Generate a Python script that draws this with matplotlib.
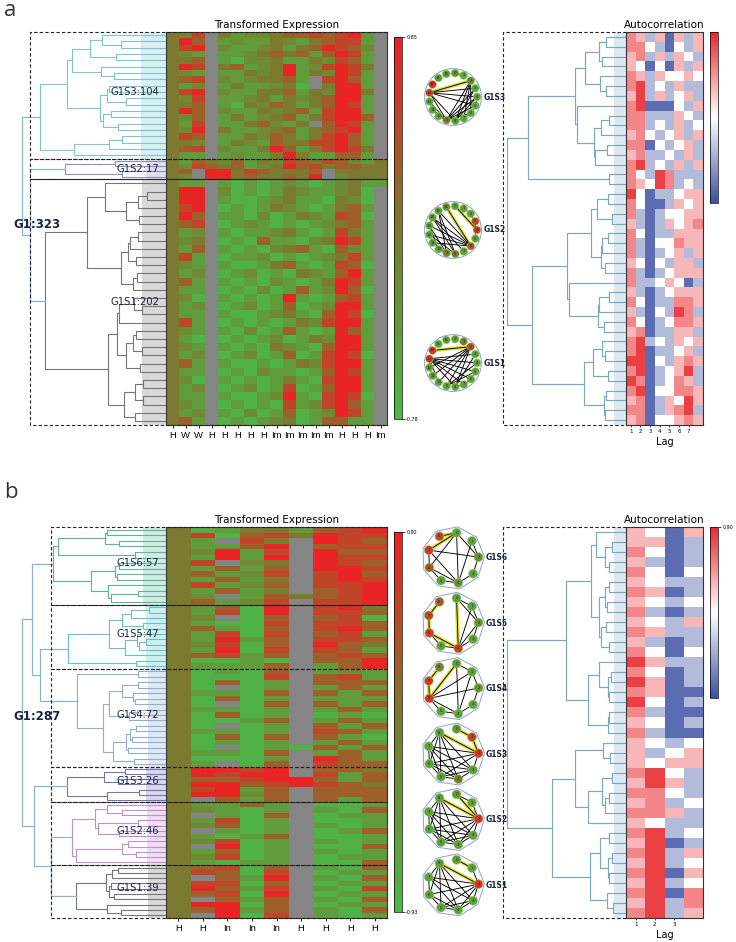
import numpy as np
import matplotlib
matplotlib.use('Agg')
import matplotlib.pyplot as plt
from matplotlib.colors import LinearSegmentedColormap, TwoSlopeNorm, Normalize
from matplotlib.patches import Circle, Polygon
import matplotlib.cm as cm

W, H = 736, 942

# ---------------- data ----------------
# expression cells coded as fraction of the colour range (x = missing)
EXPR_CODE = {'G': -0.9, 'g': -0.55, 'y': -0.25, 'o': 0.0, 'b': 0.3, 'r': 0.6, 'R': 0.95, 'x': np.nan}
AC_CODE = {'B': -0.75, 'b': -0.35, 'w': 0.0, 'p': 0.3, 'r': 0.5, 'R': 0.8}

a_names = ['G1S3', 'G1S2', 'G1S1']
a_sizes = [104, 17, 202]
a_total = 323
a_cols = ['H', 'W', 'W', 'H', 'H', 'H', 'H', 'H', 'Im', 'Im', 'Im', 'Im', 'Im', 'H', 'H', 'H', 'Im']
a_range = (-0.78, 0.85)
a_rows = {
    'G1S3': ["oyrxogyyobbrbrRgx", "oRbxgyggoygobrrgx", "orRxyggyogobRrbyx", "oygxggyobobgbRrgx",
             "oobxgGyyoggoyrbgx", "oRrxobgyoRgyrRrox", "oygxggoyoRgoyRrgx", "obrxygyoobgxrRbgx",
             "ogyxgoggyoGxoRRgx", "orRxyggoobgoyRRox", "oyrxggyogoyobRRgx", "oobxgGoybogobRrgx",
             "oRbxyggoyobgrRRgx", "oybxgogyobgorRRbx", "ogrxggobygoxbRrgx", "oyRxoggyobgobrRgx",
             "orbxggoybogorRbgx", "ooyxgoygboorrRbgx", "obrxyggoRbgorRrox", "oggxgyggoRoggbbgx"],
    'G1S2': ["ogboybgoyrborbygo", "oyrbobgyoRbrobboo", "obxRRorbooobxoooo", "oyxRRobooboRxyooo"],
    'G1S1': ["oggxgGgGgygGgyogg", "oRRxyGgGgoyggyoGx", "oRRxgGGgyoggGoyGx", "orRxGgGgoygGgobgx",
             "oRbxggGyGgoygrbGx", "obrxGgygGgGgyobgx", "ogyxgGggyogGgrogx", "oyoxGgGbggGyoRrgx",
             "ogbxgGgGyobgGbygx", "orgxGggyGgGgyorgx", "oygxgGGgobgGgrbGx", "ogyxGgyGgGoygbRgx",
             "obgxgGgGygGgoRrgx", "oggxGgGyGgbgyRbGx", "oyGxgGgGgRgGgbrgx", "ogyxGgyGgbGgyRRgx",
             "oggxgGGgyogGbRrGx", "orgxGgGgGgoyrRRgx", "oygxgGyGgbgGgRbgx", "ogGxGgGgyGgoyRRgx",
             "oygxgGgGoygGbRRgx", "ogyxGgyGgbGgrRrGx", "obgxgGGgGgoyrRRgx", "oggxGgGyggGgbRrgx",
             "oyGxgGgGgogGrRRgx", "ogyxGgyGgrGgbRRgx", "oggxgGGgyRgGrRrGx", "oygxGgGgGrgyrRbgx",
             "ogyxgGyGgbGgyRrgx", "obgxGgGgyoGgbbggx"],
}
a_labels = ['G1S3:104', 'G1S2:17', 'G1S1:202']

b_names = ['G1S6', 'G1S5', 'G1S4', 'G1S3', 'G1S2', 'G1S1']
b_sizes = [57, 47, 72, 26, 46, 39]
b_total = 287
b_cols = ['H', 'H', 'In', 'In', 'In', 'H', 'H', 'H', 'H']
b_range = (-0.93, 0.92)
b_rows = {
    'G1S6': ["oGgoogbrR", "orGbroRrr", "ogxroxRrb", "oggbRxbrr", "oyRgrxRbb", "ogRgRxRrr", "orxyoxRrb",
             "ogbgbxRRr", "obgyrxrRb", "ogbgoxrRr", "orgybxrrR", "ogbgoxbrR", "oyxgbobrR", "obgyrxrrR"],
    'G1S5': ["ogbGRxrRo", "ogrGRxrrb", "oyxGbxbrG", "ogGGrxrrb", "obgGbxrRb", "ogrGrxbrg",
             "ogRgbxrrb", "oyrGbxRbo", "ogRGrxrbg", "obrgbxbrb", "oGGgGxbbR", "ogggbxgbR"],
    'G1S4': ["oGgGbxgyg", "oGGGrxbrg", "oGbGgxbbb", "oGxGgxgbg", "oggGbxbgb", "oGbGgxggg",
             "oGxGbxbgb", "oggGgxgbg", "oGbGgxGgG", "oGGgbxgbg", "oGxGgxbgb", "oggGgxrbg",
             "oGbGbxbgG", "oGgGgxgbg", "oGxGgGbgb", "oggGbxgbg", "oGGGgxRbg", "ogxGbxrbb"],
    'G1S3': ["oRRrRxbbo", "oRrRRxrgb", "obbrRRbgb", "oRRbrRrbo", "orRgbxbbb", "oRRybxbbb", "oxbgbxbgb"],
    'G1S2': ["oggbgxGGg", "oygGgxgGb", "oxgGbxGgg", "ogrGgxGGg", "oybGgxgGg", "oxgGgxGgb",
             "ogGgbxGGg", "oyrGgxgGg", "oxRGgxGGb", "ogbGgxgGg", "oyrGgxGgg", "ogGggxGGb"],
    'G1S1': ["obrGbxgGb", "orbGrxGgg", "oxbgRxgGb", "orrGbxGgg", "oRbgrxgGr",
             "obrGRxGgg", "oxbgbxgGb", "oRRGbxGgg", "obRgbxgGb", "oxRGrxgGg"],
}
b_labels = ['G1S6:57', 'G1S5:47', 'G1S4:72', 'G1S3:26', 'G1S2:46', 'G1S1:39']

# dendrogram heights (root of whole tree = 1)
a_sub_h = [0.877, 0.703, 0.842]
a_tree = (1.0, 0, (0.947, 1, 2))
b_sub_h = [0.787, 0.682, 0.62, 0.689, 0.654, 0.627]
b_tree = (1.0, (0.933, 0, (0.877, 1, 2)), (0.919, 3, (0.80, 4, 5)))

# autocorrelation rows (lags 1..8 for a, 1..4 for b)
ac_a = ["rpbpBpbp", "rrwbBwbp", "prbpbpwb", "pwBwBpbp", "rpbpwwpw", "rRbwbpbb", "pRbpbwpb", "rRBBBwbp",
        "rrbbbpwb", "rrbwbpbw", "prwbwpbp", "rrBwbwpb", "prbbwbpb", "rRbwbpbp", "rwbRrbbb", "rpwRrbwb",
        "RwBbbwpp", "rwBBbpwp", "rbBbwwpp", "pbBbpwpr", "rwBbbppp", "rbBwwrpp", "rbBbwpbp", "pwBwbppb",
        "rbBbwppp", "rbbwpwBb", "pbBbwppp", "rwBbbrrp", "pbBwbRrb", "rwBbwrrp", "prBbbppb", "rRbwbpwp",
        "rRBbbwpb", "RRBwbprp", "rRBbwpRb", "RrBbwrpb", "rRBwwrrp", "prBbpwRp", "rrBbprRb", "prBwwprp"]
ac_b = ["pwBp", "ppBb", "rwBb", "pbBb", "rwBw", "pwbb", "rpBb", "pwbw", "rbBb", "pwbp", "rpbb", "pbBb", "rwBw",
        "Rpbb", "rwBb", "RpBb", "rpBB", "RwBb", "rbBB", "pwBb", "rbBB", "pwbw", "pbwp", "pwpp", "rRwb", "pRpb",
        "rrwb", "prbw", "rrpb", "pwbb", "rRbw", "pRBb", "rRbp", "pRbw", "rRBp", "pRbw", "rRBr", "pRbr", "rRbp"]

# co-expression networks: node values (fraction of colour range), edges, highlighted edges
net_a = {
    'G1S3': dict(vals=[-0.3, -0.7, -0.15, -0.7, -0.6, -0.7, -0.65, -0.7, -0.6, 0.05, -0.7, -0.65, -0.7, 0.65, 0.8, -0.6, -0.55],
                 edges=[(13, 3), (13, 4), (13, 5), (13, 8), (13, 9), (9, 2), (9, 3), (9, 4), (9, 5), (9, 6), (8, 2), (8, 3),
                        (7, 2), (12, 9), (11, 9), (10, 9), (6, 2), (4, 8), (4, 5), (5, 6), (6, 7), (7, 8), (10, 11), (11, 12)],
                 hl=[(13, 2), (0, 1)]),
    'G1S2': dict(vals=[-0.6, -0.6, -0.6, 0.55, 0.8, -0.6, 0.45, -0.6, -0.05, -0.1, -0.6, -0.6, -0.65, -0.6, -0.6, -0.6, -0.3],
                 edges=[(6, 15), (6, 14), (6, 13), (6, 12), (6, 11), (8, 15), (8, 14), (8, 12), (9, 15), (9, 13), (9, 11),
                        (7, 14), (10, 13), (2, 4), (3, 5), (1, 2), (11, 12), (13, 14), (9, 10)],
                 hl=[(16, 6), (0, 4)]),
    'G1S1': dict(vals=[-0.6, -0.1, 0.5, -0.6, -0.6, -0.6, -0.6, -0.6, -0.6, -0.6, -0.6, -0.6, -0.6, 0.75, 0.8, -0.6, -0.6],
                 edges=[(13, 3), (13, 4), (13, 5), (13, 6), (13, 7), (13, 8), (2, 8), (2, 9), (2, 10), (2, 11), (2, 12),
                        (4, 9), (3, 8), (5, 9), (13, 10), (5, 6), (6, 7), (7, 8), (11, 12), (12, 13)],
                 hl=[(14, 2)]),
}
net_b = {
    'G1S6': dict(vals=[-0.65, -0.6, -0.25, -0.6, -0.3, -0.6, 0.3, 0.7, 0.5],
                 edges=[(7, 4), (7, 2), (6, 0), (6, 4), (0, 4), (0, 2), (1, 4), (1, 2), (2, 3), (3, 4), (4, 5), (5, 6), (6, 7)],
                 hl=[(7, 0), (8, 0)]),
    'G1S5': dict(vals=[-0.6, -0.6, -0.3, -0.6, 0.75, -0.6, 0.7, 0.55, 0.35],
                 edges=[(0, 1), (1, 2), (2, 3), (3, 4), (4, 5), (5, 6), (0, 2), (1, 4), (2, 4)],
                 hl=[(0, 4), (6, 4), (6, 7), (7, 8)]),
    'G1S4': dict(vals=[-0.55, -0.6, -0.3, -0.6, -0.6, -0.6, 0.75, 0.65, -0.1],
                 edges=[(6, 4), (6, 2), (0, 4), (0, 1), (1, 2), (2, 3), (3, 4), (4, 5), (5, 6), (1, 4), (6, 1)],
                 hl=[(6, 0), (7, 8), (6, 7)]),
    'G1S3': dict(vals=[-0.45, 0.6, 0.8, -0.6, -0.05, -0.6, -0.6, -0.6, -0.55],
                 edges=[(8, 4), (8, 5), (8, 6), (7, 2), (7, 3), (7, 4), (6, 2), (6, 3), (5, 2), (5, 3), (7, 5), (6, 4),
                        (8, 7), (7, 6), (6, 5), (5, 4), (4, 3), (3, 2), (8, 3)],
                 hl=[(8, 2), (0, 1), (1, 2)]),
    'G1S2': dict(vals=[-0.45, -0.6, 0.8, -0.6, -0.6, -0.6, -0.6, -0.6, -0.55],
                 edges=[(8, 4), (8, 5), (8, 6), (8, 3), (7, 2), (7, 3), (7, 4), (7, 5), (6, 2), (6, 3), (6, 4), (5, 2),
                        (5, 3), (4, 2), (8, 7), (7, 6), (6, 5), (5, 4), (4, 3), (3, 2), (1, 2), (0, 1)],
                 hl=[(8, 2), (0, 2)]),
    'G1S1': dict(vals=[-0.45, -0.6, 0.8, -0.6, -0.6, -0.6, -0.6, -0.6, -0.5],
                 edges=[(8, 4), (8, 5), (8, 6), (8, 7), (7, 2), (7, 3), (7, 4), (6, 2), (6, 4), (5, 2), (5, 3), (4, 2),
                        (7, 6), (6, 5), (5, 4), (4, 3), (3, 2), (1, 2), (8, 3)],
                 hl=[(8, 2), (0, 1)]),
}

# colours
expr_cmap = LinearSegmentedColormap.from_list('expr', ['#4cb848', '#7b7a2e', '#ee2024'])
expr_cmap.set_bad('#858585')
ac_cmap = LinearSegmentedColormap.from_list('ac', ['#3b4fa3', '#ffffff', '#e8282c'])
a_dcol = ['#7cc6d2', '#8f8fc4', '#767676']
b_dcol = ['#5bb59a', '#62c2c6', '#8eaed2', '#7474b4', '#bf8fce', '#767676']
top_col = '#8cb4d2'
ac_dcol = '#7ba7c7'
navy = '#1b2540'


def px_ax(fig, x0, y0, x1, y1):
    return fig.add_axes([x0 / W, 1 - y1 / H, (x1 - x0) / W, (y1 - y0) / H])


def decode(rows, code, vmin=None, vmax=None):
    m = np.array([[code[c] for c in r] for r in rows], dtype=float)
    if vmin is not None:
        m = np.where(m > 0, m * vmax, m * abs(vmin))
    return m


def adj_tree(X, pos):
    # size-penalised agglomeration restricted to neighbouring rows, keeps the row order
    X = np.nan_to_num(X)
    nodes = [dict(n=1, m=X[i], p=pos[i], h=0.0) for i in range(len(X))]
    segs = []
    while len(nodes) > 1:
        ds = [(np.linalg.norm(a['m'] - b['m']) + 0.3) * (a['n'] + b['n']) ** 0.8
              for a, b in zip(nodes[:-1], nodes[1:])]
        k = int(np.argmin(ds))
        a, b = nodes[k], nodes[k + 1]
        h = max(ds[k], 1.06 * max(a['h'], b['h']))
        segs.append([a['p'], a['h'], b['p'], b['h'], h])
        nodes[k:k + 2] = [dict(n=a['n'] + b['n'], m=(a['m'] * a['n'] + b['m'] * b['n']) / (a['n'] + b['n']),
                               p=(a['p'] + b['p']) / 2, h=h)]
    return np.array(segs), nodes[0]


def draw_segs(ax, segs, root_h, target, color, lw=0.8):
    f = lambda v: target * (v / root_h) ** 0.75
    for p1, h1, p2, h2, h in segs:
        ax.plot([f(h1), f(h), f(h), f(h2)], [p1, p1, p2, p2], color=color, lw=lw, solid_capstyle='butt')


def draw_top(ax, tree, roots):
    if isinstance(tree, int):
        return roots[tree]
    h, l, r = tree
    pl, hl = draw_top(ax, l, roots)
    pr, hr = draw_top(ax, r, roots)
    ax.plot([hl, h, h, hr], [pl, pl, pr, pr], color=top_col, lw=0.9)
    return ((pl + pr) / 2, h)


def expr_panel(fig, ov, top, bot, dash_left, names, sizes, total, rows, rng, cols, sub_h, tree, dcols,
               labels, glabel):
    vmin, vmax = rng
    norm = TwoSlopeNorm(vmin=vmin, vcenter=0, vmax=vmax)
    hm = px_ax(fig, 166, top, 387, bot)
    dn = px_ax(fig, 8, top, 166, bot)
    starts = np.concatenate([[0], np.cumsum(sizes)])
    roots = []
    for k, nm in enumerate(names):
        m = decode(rows[nm], EXPR_CODE, vmin, vmax)
        assert m.shape[1] == len(cols)
        ye = np.linspace(starts[k], starts[k + 1], len(m) + 1)
        hm.pcolormesh(np.arange(len(cols) + 1), ye, np.ma.masked_invalid(m), cmap=expr_cmap, norm=norm)
        segs, root = adj_tree(m, (ye[:-1] + ye[1:]) / 2)
        # light band of leaves next to the heat map
        dn.fill_betweenx([starts[k], starts[k + 1]], 0, 0.2 * sub_h[k], color=dcols[k], alpha=0.28, lw=0)
        draw_segs(dn, segs, root['h'], sub_h[k], dcols[k])
        roots.append((root['p'], sub_h[k]))
    draw_top(dn, tree, roots)
    for a in (hm, dn):
        a.set_ylim(total, 0)
    dn.set_xlim(1.1, 0)
    dn.axis('off')
    hm.set_xlim(0, len(cols))
    hm.set_xticks(np.arange(len(cols)) + 0.5)
    hm.set_xticklabels(cols, fontsize=6.8, family='Liberation Sans')
    hm.tick_params(axis='x', length=2.5, width=0.6, pad=1.5)
    hm.set_yticks([])
    for s in hm.spines.values():
        s.set_linewidth(0.8)
        s.set_color('#333333')
    hm.set_title('Transformed Expression', fontsize=7.5, pad=3)
    # dashed cluster boxes
    ys = top + starts / total * (bot - top)
    for k in range(len(names)):
        y0, y1 = ys[k], ys[k + 1]
        ov.plot([387, dash_left, dash_left, 387], [y0, y0, y1, y1], color='#222222', lw=0.8,
                ls=(0, (3, 2)), zorder=6)
        mid = (y0 + y1) / 2
        ov.text(135 if len(labels[k]) > 7 else 138, mid - 3 if k == 0 or len(names) > 3 else mid,
                labels[k], fontsize=7.2, color=navy, ha='center', va='center', zorder=7)
    ov.text(37, glabel[1], glabel[0], fontsize=8.5, fontweight='bold', color=navy, ha='center', va='center', zorder=7)
    # colour bar
    cax = px_ax(fig, 394, top + 5, 402, bot - 6)
    cb = fig.colorbar(cm.ScalarMappable(norm=norm, cmap=expr_cmap), cax=cax, ticks=[vmin, vmax])
    cb.ax.set_yticklabels(['%.2f' % vmin, '%.2f' % vmax], fontsize=3.5)
    cb.ax.tick_params(length=2, width=0.5, pad=1)
    cb.outline.set_linewidth(0.5)
    return norm


def ac_panel(fig, ov, top, bot, rows, total, nlab, cb_label):
    m = decode(rows, AC_CODE)
    hm = px_ax(fig, 626, top, 703, bot)
    dn = px_ax(fig, 505, top, 626, bot)
    ye = np.linspace(0, total, len(m) + 1)
    norm = Normalize(-0.9, 0.9)
    hm.pcolormesh(np.arange(m.shape[1] + 1), ye, m, cmap=ac_cmap, norm=norm)
    segs, root = adj_tree(m, (ye[:-1] + ye[1:]) / 2)
    dn.fill_betweenx([0, total], 0, 0.1, color=ac_dcol, alpha=0.25, lw=0)
    draw_segs(dn, segs, root['h'], 1.0, ac_dcol, lw=0.85)
    for a in (hm, dn):
        a.set_ylim(total, 0)
    dn.set_xlim(1.02, 0)
    dn.axis('off')
    hm.set_xticks(np.arange(nlab) + 0.5)
    hm.set_xticklabels([str(i + 1) for i in range(nlab)], fontsize=4)
    hm.tick_params(axis='x', length=1.5, width=0.5, pad=1.5)
    hm.set_yticks([])
    hm.set_xlabel('Lag', fontsize=7, labelpad=2)
    hm.set_title('Autocorrelation', fontsize=7.5, pad=3)
    for s in hm.spines.values():
        s.set_linewidth(0.8)
        s.set_color('#333333')
    ov.plot([626, 503, 503, 626], [top, top, bot, bot], color='#222222', lw=0.8, ls=(0, (3, 2)), zorder=6)
    cax = px_ax(fig, 710, top, 718, top + 171)
    cb = fig.colorbar(cm.ScalarMappable(norm=norm, cmap=ac_cmap), cax=cax,
                      ticks=[0.9] if cb_label else [])
    if cb_label:
        cb.ax.set_yticklabels([cb_label], fontsize=3.5)
    cb.ax.tick_params(length=2, width=0.5, pad=1)
    cb.outline.set_linewidth(0.5)


def draw_net(ov, cx, cy, r, rn, start, net, label, hull):
    vals = net['vals']
    n = len(vals)
    ang = np.deg2rad(start - 360.0 / n * np.arange(n))
    xs, ys = cx + r * np.cos(ang), cy - r * np.sin(ang)
    if hull == 'circle':
        ov.add_patch(Circle((cx, cy), r + rn + 0.5, fill=False, ec='#8f9fd8', lw=0.7, zorder=3))
    else:
        ov.add_patch(Polygon(np.c_[cx + (r + rn + 1.5) * np.cos(ang), cy - (r + rn + 1.5) * np.sin(ang)],
                             closed=True, fill=False, ec='#8f9fd8', lw=0.7, zorder=3))
    for i, j in net['hl']:
        ov.plot([xs[i], xs[j]], [ys[i], ys[j]], color='#e2df3c', lw=2.6, solid_capstyle='round', zorder=4)
    for i, j in net['edges'] + net['hl']:
        ov.plot([xs[i], xs[j]], [ys[i], ys[j]], color='black', lw=0.65, zorder=5)
    for k in range(n):
        ov.add_patch(Circle((xs[k], ys[k]), rn, fc=expr_cmap((vals[k] + 1) / 2), ec='#9fd46a', lw=0.4, zorder=6))
        ov.text(xs[k], ys[k], str(k), fontsize=2.8, ha='center', va='center', color='#222222', zorder=7)
    ov.text(cx + r + rn + 3, cy, label, fontsize=5.5, fontweight='bold', color=navy, ha='left', va='center',
            zorder=7)


fig = plt.figure(figsize=(W / 100, H / 100), dpi=100)
ov = fig.add_axes([0, 0, 1, 1], zorder=10)
ov.set_xlim(0, W)
ov.set_ylim(H, 0)
ov.axis('off')

# panel a
expr_panel(fig, ov, 32, 425, 30, a_names, a_sizes, a_total, a_rows, a_range, a_cols, a_sub_h, a_tree, a_dcol,
           a_labels, ('G1:323', 224))
ac_panel(fig, ov, 32, 425, ac_a, a_total, 7, None)
for cy, nm in zip(np.linspace(97, 363, 3), a_names):
    draw_net(ov, 453, cy, 24, 3.9, 85, net_a[nm], nm, 'circle')

# panel b
expr_panel(fig, ov, 527, 918, 51, b_names, b_sizes, b_total, b_rows, b_range, b_cols, b_sub_h, b_tree, b_dcol,
           b_labels, ('G1:287', 717))
ac_panel(fig, ov, 527, 918, ac_b, b_total, 3, '0.90')
for cy, nm in zip(np.linspace(558, 885, 6), b_names):
    draw_net(ov, 453, cy, 25.5, 4.5, 82, net_b[nm], nm, 'poly')

ov.text(4, 11, 'a', fontsize=16, family='Open Sans', color='#333333', va='center', ha='left')
ov.text(4, 493, 'b', fontsize=16, family='Open Sans', color='#333333', va='center', ha='left')

fig.savefig('out.png', dpi=100)
